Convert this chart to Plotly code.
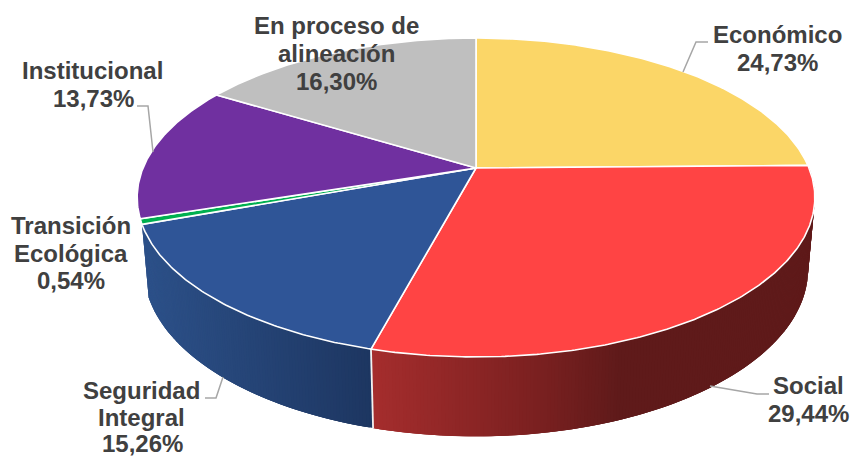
import math
import plotly.graph_objects as go

# Data
categories = ["Económico", "Social", "Seguridad Integral", "Transición Ecológica", "Institucional", "En proceso de alineación"]
shares = [24.73, 29.44, 15.26, 0.54, 13.73, 16.30]
colors = ["#FBD667", "#FF4444", "#2F5597", "#00B050", "#7030A0", "#BFBFBF"]

# Label text lines (one entry per line) with centre positions in pixels
labels = [
    ("Económico", 777.5, 34), ("24,73%", 777.5, 62),
    ("Social", 808, 385), ("29,44%", 808, 413),
    ("Seguridad", 141, 390), ("Integral", 141, 417), ("15,26%", 142, 443),
    ("Transición", 70.5, 225), ("Ecológica", 71, 253), ("0,54%", 71, 280),
    ("Institucional", 92, 70), ("13,73%", 93, 98),
    ("En proceso de", 336, 25), ("alineación", 336, 53), ("16,30%", 336, 81),
]
leaders = [
    ([683, 696, 708], [72, 42, 42]),
    ([710, 757, 769], [386, 394, 394]),
    ([223, 216, 205], [377, 398, 398]),
    ([153, 148, 137], [152, 106, 106]),
]

# Projection of the tilted disc on to the page
CX, CY, A, B, K = 476.0, 168.0, 333.0, 154.0, 0.185
WALL_X, WALL_Y, WALL_TOP = 0.98, 1.048, 238.3


def top(deg):
    t = math.radians(deg)
    x, y = math.sin(t), math.cos(t)
    w = 1 + K * y
    return CX + A * x / w, CY - B * y / w


def bottom(deg):
    x, y = top(deg)
    return CX + WALL_X * (x - CX), WALL_TOP + WALL_Y * (y - CY)


def lerp_stops(stops, x):
    if x <= stops[0][0]:
        return stops[0][1]
    for (x0, c0), (x1, c1) in zip(stops, stops[1:]):
        if x <= x1:
            f = (x - x0) / (x1 - x0)
            return tuple(c0[i] + f * (c1[i] - c0[i]) for i in range(3))
    return stops[-1][1]


wall_stops = {
    1: [(372, (165, 45, 45)), (540, (122, 32, 32)), (620, (95, 26, 26))],
    2: [(150, (44, 80, 136)), (372, (29, 54, 97))],
}

cum = [0.0]
for s in shares:
    cum.append(cum[-1] + s)
edges = [c * 3.6 / (cum[-1] / 100) for c in cum]

fig = go.Figure()


def arc(a0, a1, fn):
    n = max(2, int(abs(a1 - a0) * 2))
    return [fn(a0 + (a1 - a0) * i / n) for i in range(n + 1)]


# Side wall: each strip overlaps the next one, so no seams show between them
for idx, stops in wall_stops.items():
    a0, a1 = edges[idx], edges[idx + 1]
    n = int(a1 - a0) * 2
    for i in range(n):
        s0 = a0 + (a1 - a0) * i / n
        s1 = min(a1, a0 + (a1 - a0) * (i + 3) / n)
        s_mid = a0 + (a1 - a0) * (i + 0.5) / n
        pts = arc(s0, s1, top) + arc(s1, s0, bottom)
        pts.append(pts[0])
        xm = (top(s_mid)[0] + bottom(s_mid)[0]) / 2
        c = lerp_stops(stops, xm)
        col = "rgb(%d,%d,%d)" % tuple(round(v) for v in c)
        fig.add_trace(go.Scatter(x=[p[0] for p in pts], y=[p[1] for p in pts], mode="lines",
                                 fill="toself", fillcolor=col, line=dict(width=0),
                                 hoverinfo="skip", showlegend=False))

# Divider between the red and blue walls
p0, p1 = top(edges[2]), bottom(edges[2])
fig.add_trace(go.Scatter(x=[p0[0], p1[0]], y=[p0[1], p1[1]], mode="lines",
                         line=dict(color="#F2F2F2", width=1.8), hoverinfo="skip", showlegend=False))

# Top face
for i, name in enumerate(categories):
    pts = [(CX, CY)] + arc(edges[i], edges[i + 1], top) + [(CX, CY)]
    fig.add_trace(go.Scatter(x=[p[0] for p in pts], y=[p[1] for p in pts], mode="lines", fill="toself",
                             fillcolor=colors[i], line=dict(color="#FFFFFF", width=1.6),
                             name=name, text=f"{name}: {shares[i]}%", hoverinfo="text", showlegend=False))

# Leader lines
for lx, ly in leaders:
    fig.add_trace(go.Scatter(x=lx, y=ly, mode="lines", line=dict(color="#A6A6A6", width=1.5),
                             hoverinfo="skip", showlegend=False))

for text, x, y in labels:
    fig.add_annotation(x=x, y=y, text=f"<b>{text}</b>", showarrow=False, xanchor="center", yanchor="middle",
                       font=dict(family="Liberation Sans", size=24, color="#404040"))

fig.update_xaxes(visible=False, range=[0, 850], fixedrange=True)
fig.update_yaxes(visible=False, range=[457, 0], fixedrange=True)
fig.update_layout(width=850, height=457, margin=dict(l=0, r=0, t=0, b=0), autosize=False,
                  paper_bgcolor="#FFFFFF", plot_bgcolor="#FFFFFF", showlegend=False)

fig.write_html("out.html", config={"displayModeBar": False},
               post_script="document.body.style.margin='0';document.documentElement.style.overflow='hidden';")
